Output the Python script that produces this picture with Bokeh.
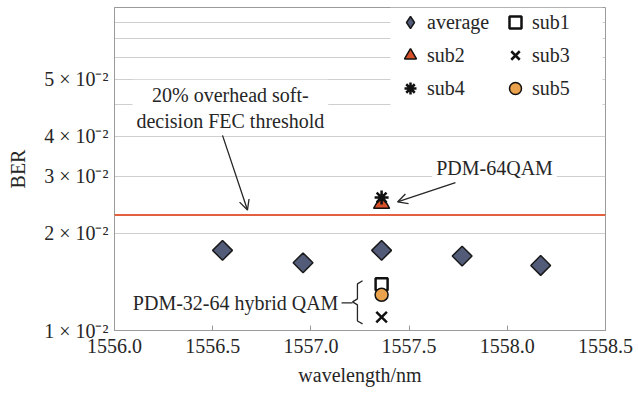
import numpy as np
from bokeh.plotting import figure
from bokeh.models import (Range1d, FixedTicker, PrintfTickFormatter, Legend, LegendItem,
                          Span, Label, Arrow, OpenHead, BoxAnnotation)
from bokeh.embed import file_html
from bokeh.resources import INLINE

# --- data -------------------------------------------------------------
wavelength = [1556.55, 1556.96, 1557.36, 1557.77, 1558.17]
ber_average = [0.0177, 0.0162, 0.0177, 0.0170, 0.0159]

sub_wavelength = [1557.36]
ber_sub1 = [0.0139]
ber_sub2 = [0.0247]
ber_sub3 = [0.0110]
ber_sub4 = [0.0258]
ber_sub5 = [0.0129]

fec_threshold = 0.0228

x_ticks = [1556.0, 1556.5, 1557.0, 1557.5, 1558.0, 1558.5]
y_ticks = [0.01, 0.02, 0.03, 0.04, 0.06]
y_tick_labels = ["1 × 10⁻²", "2 × 10⁻²", "3 × 10⁻²", "4 × 10⁻²", "5 × 10⁻²"]
y_grid = [0.02, 0.03, 0.04, 0.05, 0.06, 0.07, 0.08, 0.09]

# --- styling ----------------------------------------------------------
FONT = "Liberation Serif"
FS = "20px"
TXT = "#262626"
GREY = "#9a9a9a"
AVG_FILL = "#525b78"

p = figure(width=638, height=401, output_backend="svg", toolbar_location=None,
           y_axis_type="log", x_range=Range1d(1556.0, 1558.5),
           y_range=Range1d(0.01, 0.1))
p.min_border_left = 114
p.min_border_right = 33
p.min_border_top = 7
p.min_border_bottom = 71
p.background_fill_color = "white"
p.border_fill_color = "white"
p.outline_line_color = GREY

# axes
p.xaxis.ticker = FixedTicker(ticks=x_ticks)
p.xaxis.formatter = PrintfTickFormatter(format="%.1f")
p.xaxis.axis_label = "wavelength/nm"
p.yaxis.ticker = FixedTicker(ticks=y_ticks)
p.yaxis.major_label_overrides = {v: s for v, s in zip(y_ticks, y_tick_labels)}
p.yaxis.axis_label = "BER"
for ax in (p.xaxis[0], p.yaxis[0]):
    ax.axis_line_color = GREY
    ax.major_tick_line_color = GREY
    ax.minor_tick_line_color = None
    ax.major_label_text_font = FONT
    ax.major_label_text_font_size = FS
    ax.major_label_text_color = TXT
    ax.axis_label_text_font = FONT
    ax.axis_label_text_font_size = FS
    ax.axis_label_text_font_style = "normal"
    ax.axis_label_text_color = TXT
p.xaxis.major_tick_in = 5
p.xaxis.major_tick_out = 0
p.xaxis.major_label_standoff = 8
p.xaxis.axis_label_standoff = 8
p.yaxis.major_tick_in = 0
p.yaxis.major_tick_out = 0
p.yaxis.major_label_standoff = 6
p.yaxis.axis_label_standoff = 12

# grid
p.xgrid.visible = False
p.ygrid.ticker = FixedTicker(ticks=y_grid)
p.ygrid.grid_line_color = "#cfcfcf"
p.ygrid.grid_line_width = 1.2

# FEC threshold line
p.add_layout(Span(location=fec_threshold, dimension="width",
                  line_color="#e2603f", line_width=2))

# markers (average drawn as a square turned 45 degrees)
p.scatter(wavelength, ber_average, marker="square", angle=np.pi / 4, size=14,
          fill_color=AVG_FILL, line_color="#1a1a1a", line_width=1.5)
# legend key for the averages (not drawn in the plot area)
r_avg = p.scatter(wavelength, ber_average, marker="diamond", size=14,
                  fill_color=AVG_FILL, line_color="#1a1a1a", line_width=1.5,
                  visible=False)
r_s1 = p.scatter(sub_wavelength, ber_sub1, marker="square", size=12,
                 fill_color="white", line_color="#111111", line_width=2.5)
r_s2 = p.scatter(sub_wavelength, ber_sub2, marker="triangle", size=16,
                 fill_color="#d8502a", line_color="#111111", line_width=1.5)
r_s3 = p.scatter(sub_wavelength, ber_sub3, marker="x", size=15,
                 line_color="#111111", line_width=2.5)
r_s4 = p.scatter(sub_wavelength, ber_sub4, marker="asterisk", size=14,
                 line_color="#111111", line_width=2.5)
r_s5 = p.scatter(sub_wavelength, ber_sub5, marker="circle", size=13,
                 fill_color="#eba24c", line_color="#111111", line_width=1.5)

# white panel behind the legend (hides the grid lines there)
p.add_layout(BoxAnnotation(left=1557.405, right=1558.485, bottom=0.049, top=0.1,
                           fill_color="white", fill_alpha=1.0, line_color=None,
                           level="underlay"))


def make_legend(items, loc, label_width):
    lg = Legend(items=items, location=loc)
    lg.label_text_font = FONT
    lg.label_text_font_size = FS
    lg.label_text_color = TXT
    lg.glyph_width = 30
    lg.glyph_height = 30
    lg.label_height = 20
    lg.label_width = label_width
    lg.label_standoff = 2
    lg.spacing = 3
    lg.padding = 0
    lg.margin = 0
    lg.border_line_color = None
    lg.background_fill_alpha = 0
    lg.inactive_fill_alpha = 0
    return lg


p.add_layout(make_legend([LegendItem(label="average", renderers=[r_avg]),
                          LegendItem(label="sub2", renderers=[r_s2]),
                          LegendItem(label="sub4", renderers=[r_s4])], (281, 227), 63))
p.add_layout(make_legend([LegendItem(label="sub1", renderers=[r_s1]),
                          LegendItem(label="sub3", renderers=[r_s3]),
                          LegendItem(label="sub5", renderers=[r_s5])], (386, 227), 50))

# annotations
p.add_layout(Label(x=1556.59, y=0.0489, text="20% overhead soft-\ndecision FEC threshold",
                   text_font=FONT, text_font_size=FS, text_color=TXT,
                   text_align="center", text_baseline="middle",
                   background_fill_color="white", padding=4))
p.add_layout(Arrow(x_start=1556.55, y_start=0.0402, x_end=1556.677, y_end=0.0236,
                   line_color=TXT, line_width=1.3,
                   end=OpenHead(size=10, line_color=TXT, line_width=1.3)))

p.add_layout(Label(x=1557.935, y=0.03175, text="PDM-64QAM",
                   text_font=FONT, text_font_size=FS, text_color=TXT,
                   text_align="center", text_baseline="middle",
                   background_fill_color="white", padding=4))
p.add_layout(Arrow(x_start=1557.736, y_start=0.0287, x_end=1557.441, y_end=0.0250,
                   line_color=TXT, line_width=1.3,
                   end=OpenHead(size=10, line_color=TXT, line_width=1.3)))

p.add_layout(Label(x=1557.14, y=0.01217, text="PDM-32-64 hybrid QAM",
                   text_font=FONT, text_font_size=FS, text_color=TXT,
                   text_align="right", text_baseline="middle"))

# bracket grouping the PDM-32-64 sub-channels, with its leader dash
brace_xs = [[1557.156, 1557.212],
            [1557.263, 1557.237, 1557.237, 1557.212, 1557.237, 1557.237, 1557.263]]
brace_ys = [[0.01217, 0.01217],
            [0.01425, 0.01394, 0.01253, 0.01226, 0.01200, 0.01070, 0.01048]]
p.multi_line(brace_xs, brace_ys, line_color=TXT, line_width=1.3)

open("out.html", "w").write(file_html(p, INLINE))
